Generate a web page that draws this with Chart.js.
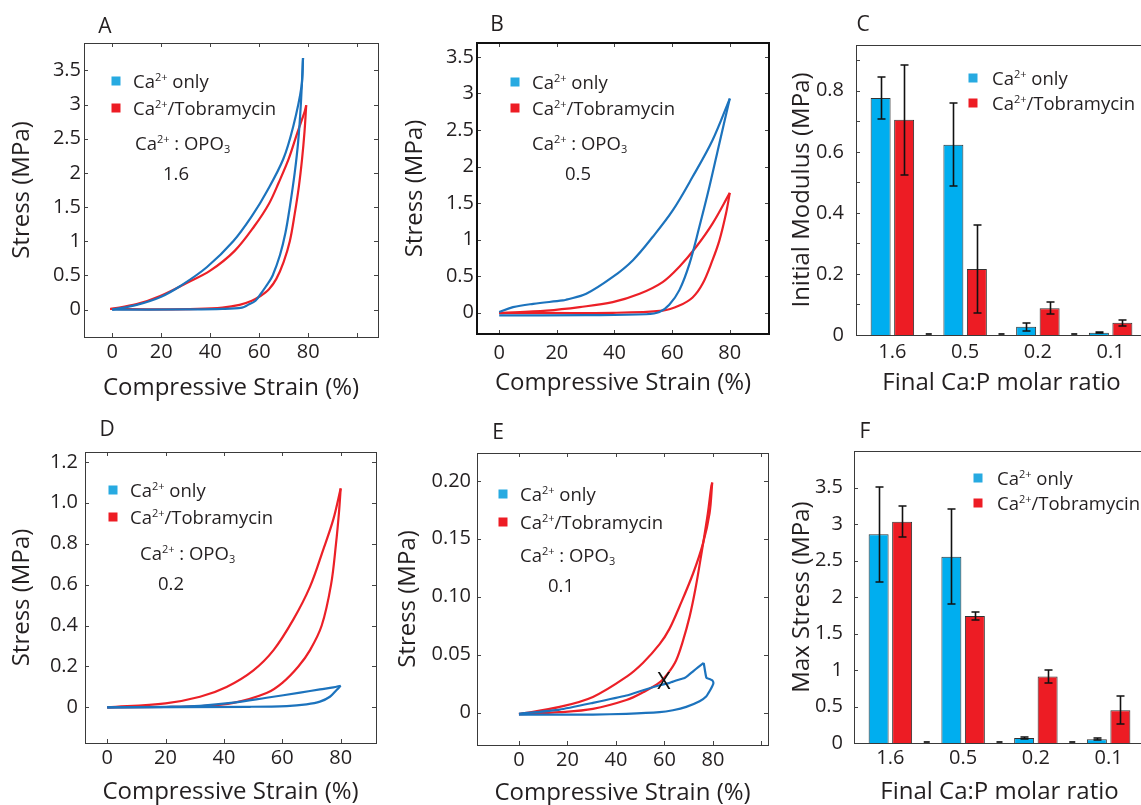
<!DOCTYPE html>
<html>
<head>
<meta charset="utf-8">
<title>Compression cycles and moduli of Ca / Tobramycin gels</title>
<script src="https://cdn.jsdelivr.net/npm/chart.js@4.4.1/dist/chart.umd.min.js"></script>
<style>
  html, body { margin: 0; padding: 0; background: #fff; overflow: hidden; }
  body { width: 1141px; height: 805px; position: relative; }
  canvas { position: absolute; }
</style>
</head>
<body>
<canvas id="panelA"></canvas>
<canvas id="panelB"></canvas>
<canvas id="panelC"></canvas>
<canvas id="panelD"></canvas>
<canvas id="panelE"></canvas>
<canvas id="panelF"></canvas>
<script>
// ---------- text ----------
const SERIES_NAMES = ['Ca^{2+} only', 'Ca^{2+}/Tobramycin'];
const RATIO_NOTE = 'Ca^{2+} : OPO_{3}';
const STRAIN_TITLE = 'Compressive Strain (%)';
const STRESS_TITLE = 'Stress (MPa)';
const RATIO_TITLE = 'Final Ca:P molar ratio';
const MODULUS_TITLE = 'Initial Modulus (MPa)';
const MAXSTRESS_TITLE = 'Max Stress (MPa)';

// ---------- bar categories and values ----------
const RATIOS = ['1.6', '0.5', '0.2', '0.1'];
const MOD_CA = [0.776, 0.623, 0.027, 0.007];
const MOD_CA_ERR = [0.07, 0.136, 0.013, 0.002];
const MOD_TOB = [0.705, 0.216, 0.088, 0.040];
const MOD_TOB_ERR = [0.18, 0.143, 0.02, 0.01];
const MAX_CA = [2.86, 2.55, 0.07, 0.05];
const MAX_CA_ERR = [0.65, 0.65, 0.01, 0.015];
const MAX_TOB = [3.03, 1.74, 0.91, 0.45];
const MAX_TOB_ERR = [0.21, 0.05, 0.09, 0.19];

// ---------- tick values and labels ----------
const STRAIN_TICKS_100 = [0, 20, 40, 60, 80, 100];
const STRAIN_TICKS_80 = [0, 20, 40, 60, 80];
const STRAIN_LABELS = ['0', '20', '40', '60', '80', ''];
const STRESS_TICKS_35 = [0, 0.5, 1, 1.5, 2, 2.5, 3, 3.5];
const STRESS_LABELS_35 = ['0', '0.5', '1', '1.5', '2', '2.5', '3', '3.5'];
const STRESS_TICKS_12 = [0, 0.2, 0.4, 0.6, 0.8, 1.0, 1.2];
const STRESS_LABELS_12 = ['0', '0.2', '0.4', '0.6', '0.8', '1.0', '1.2'];
const STRESS_TICKS_02 = [0, 0.05, 0.10, 0.15, 0.20];
const STRESS_LABELS_02 = ['0', '0.05', '0.10', '0.15', '0.20'];
const MOD_TICKS = [0, 0.1, 0.2, 0.3, 0.4, 0.5, 0.6, 0.7, 0.8, 0.9];
const MOD_LABELS = ['0', '', '0.2', '', '0.4', '', '0.6', '', '0.8', ''];

// ---------- loading / unloading cycles: [strain %, stress MPa] ----------
// Ca:OPO3 = 1.6
const A_CA_LOAD = [[0,0],[10,0.07],[20,0.19],[28,0.35],[38.6,0.62],[49.4,1.0],[57.6,1.4],[63,1.72],[69.8,2.2],[73.9,2.68],[77.3,3.27],[77.9,3.68]];
const A_CA_UNLOAD = [[77.9,3.68],[77.0,3.0],[75.9,2.45],[74.5,2.0],[72.5,1.5],[70.7,1.12],[68.5,0.8],[65.5,0.5],[63.7,0.39],[61,0.25],[58.5,0.13],[55.5,0.07],[53,0.03],[45,0.01],[30,0.003],[0,0]];
const A_TOB_LOAD = [[-0.8,0.01],[10,0.08],[19.6,0.2],[30.4,0.39],[40,0.57],[50,0.86],[58,1.22],[64,1.55],[68,1.86],[72,2.2],[75.6,2.59],[78.6,2.9],[79.2,2.99]];
const A_TOB_UNLOAD = [[79.2,2.99],[78.5,2.6],[77.5,2.2],[76.2,1.8],[74.5,1.4],[72.5,1.0],[70,0.7],[67,0.45],[64,0.3],[60.5,0.2],[57,0.13],[52,0.07],[45,0.03],[35,0.01],[20,0.003],[-0.8,0.01]];
// Ca:OPO3 = 0.5
const B_CA_LOAD = [[0,0.01],[4.8,0.078],[11.8,0.123],[22.1,0.169],[23.3,0.18],[30.2,0.26],[39.4,0.49],[46.4,0.72],[53.3,1.04],[60.2,1.40],[67.1,1.86],[74,2.36],[80,2.93]];
const B_CA_UNLOAD = [[80,2.93],[76.4,2.32],[72.9,1.72],[69.4,1.17],[66,0.67],[62.5,0.31],[59,0.11],[55.6,0.01],[51,-0.02],[30,-0.032],[0,-0.036]];
const B_TOB_LOAD = [[0,-0.005],[16.4,0.03],[27.9,0.078],[39.4,0.146],[48.7,0.26],[56.7,0.42],[62.5,0.63],[68.3,0.9],[74,1.22],[80,1.64]];
const B_TOB_UNLOAD = [[80,1.64],[78.7,1.36],[76.4,0.99],[74,0.72],[70.6,0.4],[67.1,0.21],[62.5,0.1],[56.7,0.03],[39.4,0],[0,0]];
// Ca:OPO3 = 0.2
const D_CA_LOAD = [[0,0],[20.3,0.003],[31.8,0.008],[43.2,0.023],[54.6,0.047],[66.1,0.072],[72.9,0.088],[77.5,0.098],[80,0.106]];
const D_CA_UNLOAD = [[80,0.106],[78.6,0.085],[76.3,0.052],[72.9,0.028],[68.3,0.015],[61.5,0.0065],[48.9,0.003],[0,0]];
const D_TOB_LOAD = [[0,0],[20,0.02],[31.8,0.052],[40.9,0.1],[50,0.18],[57,0.28],[63.8,0.43],[69.5,0.59],[74,0.77],[77.5,0.92],[80,1.07]];
const D_TOB_UNLOAD = [[80,1.07],[79.4,0.95],[78.4,0.8],[76.7,0.6],[73.5,0.4],[69.5,0.28],[65.5,0.2],[60,0.12],[54.6,0.07],[43.2,0.022],[31.8,0.006],[20,0.002],[0,0]];
// Ca:OPO3 = 0.1
const E_CA_LOAD = [[0,-0.001],[16.8,0.0026],[30.5,0.0084],[44.3,0.0147],[51.2,0.0193],[58,0.0236],[62.1,0.0256],[64.8,0.0276],[66.9,0.029],[68.3,0.0299],[69.7,0.0319],[71.8,0.0356],[73.8,0.039],[76.2,0.0428]];
const E_CA_UNLOAD = [[76.2,0.0428],[77.3,0.0299],[78.6,0.029],[79.7,0.0279],[80.2,0.0256],[79.7,0.0227],[78.6,0.0184],[77.3,0.0141],[74.5,0.0097],[69,0.0049],[63.5,0.002],[58,0.0003],[44.3,-0.0011],[30.5,-0.0017],[0,-0.0017]];
const E_TOB_LOAD = [[0,-0.0014],[16.8,0.0049],[30.5,0.0135],[44.3,0.0308],[51.2,0.043],[58,0.059],[62,0.072],[66.3,0.092],[71.8,0.120],[75.9,0.146],[78.6,0.172],[79.7,0.1985]];
const E_TOB_UNLOAD = [[79.7,0.1985],[79.3,0.195],[77.9,0.172],[75.4,0.139],[72.8,0.107],[70.4,0.083],[67.5,0.061],[64.8,0.045],[61.5,0.034],[58,0.026],[51.2,0.0175],[44.3,0.0108],[30.5,0.0032],[16.8,0.0003],[0,-0.0014]];
// sample failure point in the 0.1 cycle
const E_FAILURE = [59.8, 0.0256];

// ---------- styling ----------
const FONT = "'Open Sans', 'Noto Sans', sans-serif";
const INK = '#231f20';
const BLUE_LINE = '#1c73bd', RED_LINE = '#ec2027';
const BLUE_BAR = '#00aeef', RED_BAR = '#ed1c24';
const BLUE_KEY = '#27aae1', RED_KEY = '#ed1c24';
const TICK_SIZE = 20, TITLE_SIZE = 24, KEY_SIZE = 18.5, LETTER_SIZE = 21;

Chart.defaults.font.family = FONT;
Chart.defaults.color = INK;

// draws text with ^{sup} / _{sub} runs, y is the vertical middle
function richText(ctx, str, x, y, size, align) {
  const parts = [];
  const re = /(\^|_)\{([^}]*)\}/g;
  let last = 0, m;
  while ((m = re.exec(str))) {
    if (m.index > last) parts.push({ t: str.slice(last, m.index), k: 0 });
    parts.push({ t: m[2], k: m[1] === '^' ? 1 : -1 });
    last = re.lastIndex;
  }
  if (last < str.length) parts.push({ t: str.slice(last), k: 0 });
  const fontFor = k => `${k ? Math.round(size * 0.62) : size}px ${FONT}`;
  let w = 0;
  parts.forEach(p => { ctx.font = fontFor(p.k); p.w = ctx.measureText(p.t).width; w += p.w; });
  let cx = align === 'center' ? x - w / 2 : x;
  const base = y + size * 0.36;
  ctx.textAlign = 'left';
  ctx.textBaseline = 'alphabetic';
  parts.forEach(p => {
    ctx.font = fontFor(p.k);
    const dy = p.k === 1 ? -size * 0.36 : (p.k === -1 ? size * 0.2 : 0);
    ctx.fillText(p.t, cx, base + dy);
    cx += p.w;
  });
}

// frame, inward tick marks, panel letter, key, notes, error bars
const panelDeco = {
  id: 'panelDeco',
  afterDatasetsDraw(chart) {
    const ctx = chart.ctx, y = chart.scales.y;
    chart.data.datasets.forEach((ds, i) => {
      if (!ds.errors) return;
      chart.getDatasetMeta(i).data.forEach((bar, j) => {
        const v = ds.data[j], e = ds.errors[j];
        const top = Math.round(y.getPixelForValue(v + e)), bot = Math.round(y.getPixelForValue(v - e));
        const bx = Math.round(bar.x) + 0.5;
        ctx.save();
        ctx.strokeStyle = '#111';
        ctx.lineWidth = 1.6;
        ctx.beginPath();
        ctx.moveTo(bx, top); ctx.lineTo(bx, bot);
        ctx.moveTo(bx - 4, top); ctx.lineTo(bx + 4, top);
        ctx.moveTo(bx - 4, bot); ctx.lineTo(bx + 4, bot);
        ctx.stroke();
        ctx.restore();
      });
    });
  },
  afterDraw(chart, args, o) {
    const ctx = chart.ctx, a = chart.chartArea;
    const ox = o.originX, oy = o.originY;
    const sx = chart.scales.x, sy = chart.scales.y;
    ctx.save();
    // tick marks
    ctx.strokeStyle = '#444';
    ctx.lineWidth = 1;
    ctx.beginPath();
    const L = 4;
    if (o.xTicks) {
      sx.ticks.forEach(t => {
        const px = Math.round(sx.getPixelForValue(t.value)) + 0.5;
        ctx.moveTo(px, a.bottom); ctx.lineTo(px, a.bottom - L);
        ctx.moveTo(px, a.top); ctx.lineTo(px, a.top + L);
      });
    }
    sy.ticks.forEach(t => {
      const py = Math.round(sy.getPixelForValue(t.value)) + 0.5;
      ctx.moveTo(a.left, py); ctx.lineTo(a.left + L, py);
      if (o.yTicksRight) { ctx.moveTo(a.right, py); ctx.lineTo(a.right - L, py); }
    });
    ctx.stroke();
    // dashes between category groups on the baseline
    if (o.gapDashes) {
      ctx.beginPath();
      ctx.lineWidth = 2;
      ctx.strokeStyle = '#333';
      const base = sy.getPixelForValue(0) - 1;
      for (let j = 0; j < sx.ticks.length - 1; j++) {
        const xm = (sx.getPixelForValue(j) + sx.getPixelForValue(j + 1)) / 2;
        ctx.moveTo(xm - 3, base); ctx.lineTo(xm + 3, base);
      }
      ctx.stroke();
    }
    // frame
    ctx.strokeStyle = o.frameColor;
    ctx.lineWidth = o.frameWidth;
    const h = o.frameWidth % 2 ? 0.5 : 0;
    ctx.strokeRect(a.left + h, a.top + h, a.right - a.left, a.bottom - a.top);
    // panel letter
    ctx.fillStyle = INK;
    ctx.font = `${LETTER_SIZE}px ${FONT}`;
    ctx.textAlign = 'center';
    ctx.textBaseline = 'middle';
    ctx.fillText(o.letter, o.letterX - ox, o.letterY - oy);
    // key
    const k = o.key;
    [BLUE_KEY, RED_KEY].forEach((c, i) => {
      const cy = k.y + i * k.dy - oy;
      ctx.fillStyle = c;
      ctx.fillRect(k.x - ox - 4.5, cy - 4.5, 9, 9);
      ctx.fillStyle = INK;
      richText(ctx, SERIES_NAMES[i], k.textX - ox, cy, KEY_SIZE, 'left');
    });
    // notes
    (o.notes || []).forEach(n => {
      ctx.fillStyle = INK;
      richText(ctx, n.text, n.x - ox, n.y - oy, KEY_SIZE, 'left');
    });
    // failure mark
    if (o.failure) {
      ctx.fillStyle = '#111';
      ctx.font = `23px ${FONT}`;
      ctx.textAlign = 'center';
      ctx.textBaseline = 'middle';
      ctx.fillText('X', sx.getPixelForValue(o.failure[0]), sy.getPixelForValue(o.failure[1]));
    }
    ctx.restore();
  }
};

function makeChart(cfg, type, data) {
  const cv = document.getElementById(cfg.id);
  const b = cfg.box, p = cfg.plot;
  cv.width = b.w; cv.height = b.h;
  cv.style.left = b.x + 'px'; cv.style.top = b.y + 'px';
  cv.style.width = b.w + 'px'; cv.style.height = b.h + 'px';
  const tickLH = TICK_SIZE * 1.2, titleLH = TITLE_SIZE * 1.2;
  const tickFont = { family: FONT, size: TICK_SIZE, lineHeight: 1.2 };
  const titleFont = { family: FONT, size: TITLE_SIZE, lineHeight: 1.2 };
  const isBar = type === 'bar';

  const x = {
    offset: isBar,
    grid: { display: false, drawTicks: false },
    border: { display: false },
    afterFit: s => { s.height = b.y + b.h - p.b; },
    ticks: { font: tickFont, color: INK, padding: cfg.xLabelY - p.b - tickLH / 2, autoSkip: false, maxRotation: 0, minRotation: 0 },
    title: { display: true, text: cfg.xTitle, font: titleFont, color: INK, padding: { top: 0, bottom: b.y + b.h - cfg.xTitleY - titleLH / 2 } }
  };
  if (!isBar) {
    x.type = 'linear';
    x.min = cfg.xRange[0]; x.max = cfg.xRange[1];
    x.afterBuildTicks = s => { s.ticks = cfg.xTicks.map(v => ({ value: v })); };
    x.ticks.callback = (v, i) => cfg.xLabels[i];
  }
  const y = {
    type: 'linear',
    min: cfg.yRange[0], max: cfg.yRange[1],
    grid: { display: false, drawTicks: false },
    border: { display: false },
    afterFit: s => { s.width = p.l - b.x; },
    afterBuildTicks: s => { s.ticks = cfg.yTicks.map(v => ({ value: v })); },
    ticks: { font: tickFont, color: INK, padding: p.l - cfg.yLabelRight, autoSkip: false, callback: (v, i) => cfg.yLabels[i] },
    title: { display: true, text: cfg.yTitle, font: titleFont, color: INK, padding: { top: cfg.yTitleX - b.x - titleLH / 2, bottom: 0 } }
  };

  return new Chart(cv, {
    type,
    data,
    options: {
      responsive: false,
      animation: false,
      devicePixelRatio: 1,
      events: [],
      layout: { padding: { left: 0, top: p.t - b.y, right: b.x + b.w - p.r, bottom: 0 } },
      plugins: {
        legend: { display: false },
        tooltip: { enabled: false },
        panelDeco: {
          originX: b.x, originY: b.y,
          letter: cfg.letter, letterX: cfg.letterPos[0], letterY: cfg.letterPos[1],
          key: cfg.key, notes: cfg.notes,
          frameColor: cfg.frameColor || '#3a3a3a', frameWidth: cfg.frameWidth || 1,
          xTicks: !isBar, yTicksRight: !isBar, gapDashes: isBar,
          failure: cfg.failure || null
        }
      },
      scales: { x, y }
    },
    plugins: [panelDeco]
  });
}

function curve(points, color, tension) {
  return {
    data: points.map(([sx, sy]) => ({ x: sx, y: sy })),
    borderColor: color, borderWidth: 2.2, pointRadius: 0,
    showLine: true, fill: false, tension: tension === undefined ? 0.35 : tension
  };
}

function cyclePanel(cfg, caLoad, caUnload, tobLoad, tobUnload, tension) {
  return makeChart(cfg, 'scatter', {
    datasets: [
      curve(caLoad, BLUE_LINE, tension), curve(caUnload, BLUE_LINE, tension),
      curve(tobLoad, RED_LINE), curve(tobUnload, RED_LINE)
    ]
  });
}

function barPanel(cfg, ca, caErr, tob, tobErr) {
  const common = { borderColor: '#333', borderWidth: 1, categoryPercentage: 0.646, barPercentage: 0.85 };
  return makeChart(cfg, 'bar', {
    labels: RATIOS,
    datasets: [
      Object.assign({ data: ca, errors: caErr, backgroundColor: BLUE_BAR }, common),
      Object.assign({ data: tob, errors: tobErr, backgroundColor: RED_BAR }, common)
    ]
  });
}

// ---------- panels ----------
cyclePanel({
  id: 'panelA', letter: 'A', letterPos: [105, 27],
  box: { x: 0, y: 0, w: 400, h: 410 }, plot: { l: 84, t: 43, r: 378, b: 337 },
  xRange: [-11.5, 108.5], xTicks: STRAIN_TICKS_100, xLabels: STRAIN_LABELS,
  yRange: [-0.4, 3.9], yTicks: STRESS_TICKS_35, yLabels: STRESS_LABELS_35,
  xTitle: STRAIN_TITLE, yTitle: STRESS_TITLE,
  xLabelY: 352, xTitleY: 388, yLabelRight: 81, yTitleX: 22,
  key: { x: 116, y: 81, dy: 27, textX: 133 },
  notes: [{ text: RATIO_NOTE, x: 135, y: 143 }, { text: RATIOS[0], x: 163, y: 173 }]
}, A_CA_LOAD, A_CA_UNLOAD, A_TOB_LOAD, A_TOB_UNLOAD);

cyclePanel({
  id: 'panelB', letter: 'B', letterPos: [497, 25],
  box: { x: 392, y: 0, w: 390, h: 410 }, plot: { l: 477, t: 43, r: 769, b: 334 },
  xRange: [-7.7, 93.6], xTicks: STRAIN_TICKS_80, xLabels: STRAIN_LABELS,
  yRange: [-0.29, 3.69], yTicks: STRESS_TICKS_35, yLabels: STRESS_LABELS_35,
  xTitle: STRAIN_TITLE, yTitle: STRESS_TITLE,
  xLabelY: 353, xTitleY: 383, yLabelRight: 474, yTitleX: 415,
  key: { x: 515, y: 82, dy: 26, textX: 532 },
  notes: [{ text: RATIO_NOTE, x: 532, y: 143 }, { text: RATIOS[1], x: 565, y: 173 }],
  frameColor: '#111', frameWidth: 2
}, B_CA_LOAD, B_CA_UNLOAD, B_TOB_LOAD, B_TOB_UNLOAD);

barPanel({
  id: 'panelC', letter: 'C', letterPos: [863, 25],
  box: { x: 775, y: 0, w: 380, h: 410 }, plot: { l: 856, t: 45, r: 1147, b: 335 },
  yRange: [0, 0.95], yTicks: MOD_TICKS, yLabels: MOD_LABELS,
  xTitle: RATIO_TITLE, yTitle: MODULUS_TITLE,
  xLabelY: 352, xTitleY: 383, yLabelRight: 844, yTitleX: 802,
  key: { x: 973, y: 78, dy: 25, textX: 992 }, notes: []
}, MOD_CA, MOD_CA_ERR, MOD_TOB, MOD_TOB_ERR);

cyclePanel({
  id: 'panelD', letter: 'D', letterPos: [107, 430],
  box: { x: 0, y: 400, w: 400, h: 420 }, plot: { l: 85, t: 452, r: 376, b: 743 },
  xRange: [-7.6, 92.1], xTicks: STRAIN_TICKS_80, xLabels: STRAIN_LABELS,
  yRange: [-0.174, 1.248], yTicks: STRESS_TICKS_12, yLabels: STRESS_LABELS_12,
  xTitle: STRAIN_TITLE, yTitle: STRESS_TITLE,
  xLabelY: 758, xTitleY: 792, yLabelRight: 78, yTitleX: 22,
  key: { x: 113, y: 490, dy: 27, textX: 130 },
  notes: [{ text: RATIO_NOTE, x: 140, y: 553 }, { text: RATIOS[2], x: 158, y: 583 }]
}, D_CA_LOAD, D_CA_UNLOAD, D_TOB_LOAD, D_TOB_UNLOAD);

cyclePanel({
  id: 'panelE', letter: 'E', letterPos: [498, 433],
  box: { x: 385, y: 400, w: 395, h: 420 }, plot: { l: 477, t: 453, r: 768, b: 745 },
  xRange: [-17.3, 102.7], xTicks: STRAIN_TICKS_100, xLabels: STRAIN_LABELS,
  yRange: [-0.028, 0.224], yTicks: STRESS_TICKS_02, yLabels: STRESS_LABELS_02,
  xTitle: STRAIN_TITLE, yTitle: STRESS_TITLE,
  xLabelY: 760, xTitleY: 793, yLabelRight: 471, yTitleX: 408,
  key: { x: 503, y: 494, dy: 28, textX: 520 },
  notes: [{ text: RATIO_NOTE, x: 520, y: 555 }, { text: RATIOS[3], x: 548, y: 585 }],
  failure: E_FAILURE
}, E_CA_LOAD, E_CA_UNLOAD, E_TOB_LOAD, E_TOB_UNLOAD, 0.15);

barPanel({
  id: 'panelF', letter: 'F', letterPos: [865, 432],
  box: { x: 775, y: 400, w: 380, h: 420 }, plot: { l: 854, t: 451, r: 1145, b: 743 },
  yRange: [0, 4.0], yTicks: STRESS_TICKS_35, yLabels: STRESS_LABELS_35,
  xTitle: RATIO_TITLE, yTitle: MAXSTRESS_TITLE,
  xLabelY: 758, xTitleY: 792, yLabelRight: 843, yTitleX: 802,
  key: { x: 978, y: 478, dy: 25, textX: 997 }, notes: []
}, MAX_CA, MAX_CA_ERR, MAX_TOB, MAX_TOB_ERR);
</script>
</body>
</html>
